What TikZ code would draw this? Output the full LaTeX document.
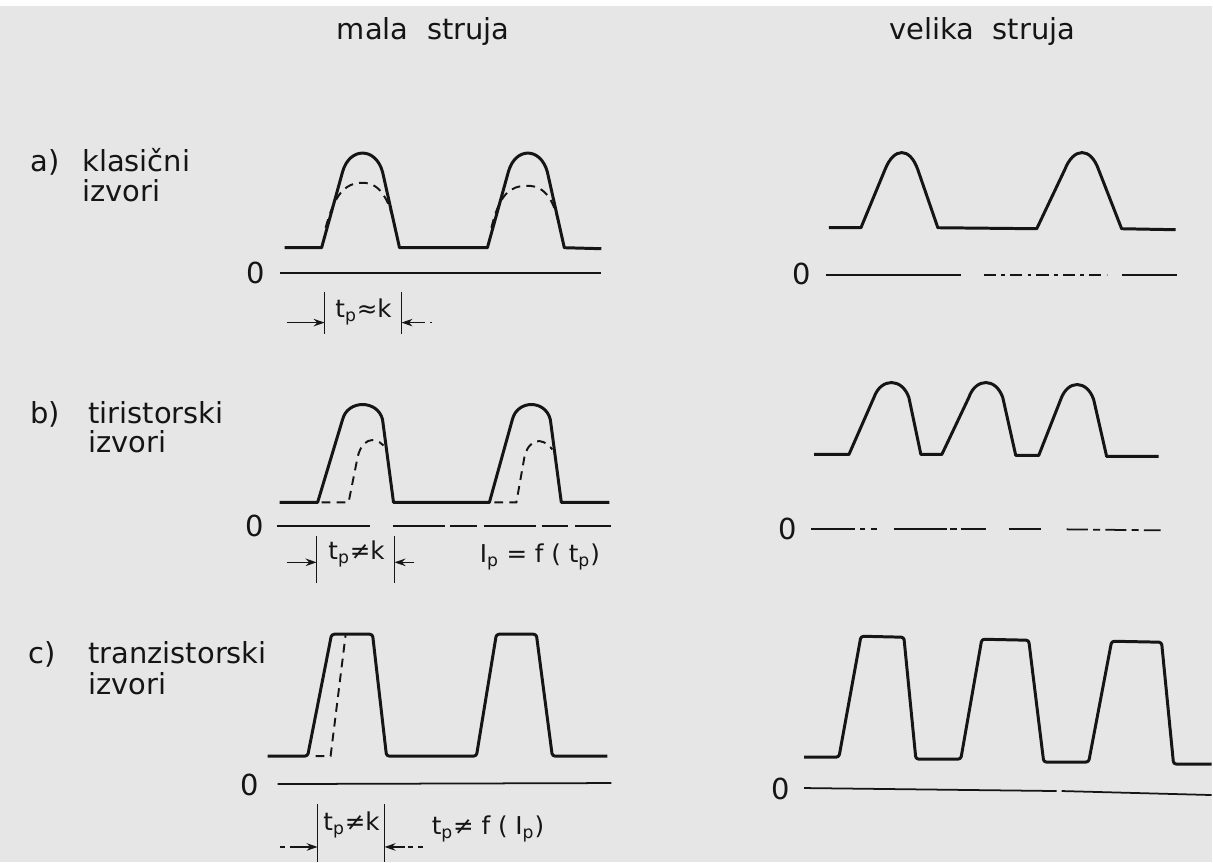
\documentclass[tikz,border=0pt]{standalone}
\usepackage{fontspec}
\setmainfont{DejaVu Sans}
\usetikzlibrary{arrows.meta}
\definecolor{paper}{HTML}{E6E6E6}
\definecolor{ink}{HTML}{151515}

\begin{document}
\begin{tikzpicture}[
  x=0.02cm, y=-0.02cm,
  every node/.style={font=\fontsize{16.5}{15}\selectfont, text=ink, inner sep=0pt},
  title/.style={anchor=base west},
  rowlabel/.style={anchor=base west},
  zero/.style={anchor=center},
  dimtext/.style={font=\fontsize{14}{15}\selectfont, anchor=base},
  wave/.style={draw=ink, line width=1.7pt, line join=round},
  guess/.style={draw=ink, line width=1.1pt, dash pattern=on 5pt off 3.5pt},
  axis/.style={draw=ink, line width=1pt},
  tick/.style={draw=ink, line width=0.9pt},
  dim/.style={draw=ink, line width=0.9pt, -{Stealth[length=2.2mm,width=1.5mm]}},
]
% paper
\fill[paper] (0,0) rectangle (1213,863);
\fill[white] (0,0) rectangle (1213,6);

% column titles
\node[title] (mala) at (337,40) {mala\ \ struja};
\node[title] (velika) at (890,40) {velika\ \ struja};

% row labels
\node[rowlabel] (ra) at (30,172) {a)};
\node[rowlabel] (klas) at (82,172) {klasični};
\node[rowlabel] (izva) at (82,202) {izvori};
\node[rowlabel] (rb) at (30,424) {b)};
\node[rowlabel] (tiri) at (88,424) {tiristorski};
\node[rowlabel] (izvb) at (88,453) {izvori};
\node[rowlabel] (rc) at (28,664) {c)};
\node[rowlabel] (tran) at (88,664) {tranzistorski};
\node[rowlabel] (izvc) at (88,695) {izvori};

% zero levels
\node[zero] (za) at (256,273) {0};
\node[zero] (zb) at (255,527) {0};
\node[zero] (zc) at (250,786) {0};
\node[zero] (zd) at (803,274) {0};
\node[zero] (ze) at (789,530) {0};
\node[zero] (zf) at (782,790) {0};

%% a) klasicni izvori
\draw[axis] (280,273) -- (602,273);
\draw[wave] (285,248) -- (322,248) -- (343,172) .. controls (350,147) and (376,147) .. (383,172)
  -- (400,248) -- (488,248) -- (509,172) .. controls (516,147) and (541,147) .. (548,172)
  -- (565,248) -- (602,249);
\draw[guess] (326,228) .. controls (335,195) and (345,183) .. (363,183) .. controls (381,183) and (390,200) .. (396,230);
\draw[guess] (492,228) .. controls (500,195) and (510,186) .. (528,186) .. controls (546,186) and (555,200) .. (561,230);

\coordinate (a1) at (325,292);
\coordinate (a2) at (402,292);
\draw[tick] (a1) -- ++(0,42);
\draw[tick] (a2) -- ++(0,42);
\draw[dim] (287,323) -- (a1 |- 0,323);
\draw[dim] (420,323) -- (a2 |- 0,323);
\draw[tick, dashed] (420,323) -- (433,323);
\node[dimtext] (tpa) at (364,318) {t\textsubscript{p}≈k};

\draw[axis] (827,275) -- (962,275);
\draw[axis, dash pattern=on 7pt off 3pt on 2pt off 3pt] (985,275) -- (1108,275);
\draw[axis] (1123,275) -- (1178,275);
\draw[wave] (830,228) -- (862,228) -- (886,170) .. controls (895,147) and (911,147) .. (919,170)
  -- (939,228) -- (1038,229) -- (1066,170) .. controls (1075,147) and (1092,147) .. (1100,170)
  -- (1123,229) -- (1177,230);

%% b) tiristorski izvori
\draw[axis] (277,527) -- (370,527);
\draw[axis, dash pattern=on 30pt off 3pt on 15pt off 4pt] (393,527) -- (612,527);
\draw[wave] (280,503) -- (318,503) -- (343,420) .. controls (348,400) and (378,400) .. (383,420)
  -- (394,503) -- (490,503) -- (513,420) .. controls (518,400) and (546,400) .. (551,420)
  -- (562,503) -- (610,503);
\draw[guess] (322,503) -- (349,503) -- (358,458) .. controls (362,440) and (374,436) .. (384,446);
\draw[guess] (495,503) -- (517,503) -- (525,458) .. controls (529,440) and (542,436) .. (553,450);

\coordinate (b1) at (317,537);
\coordinate (b2) at (395,537);
\draw[tick] (b1) -- ++(0,47);
\draw[tick] (b2) -- ++(0,47);
\draw[dim] (287,563) -- (b1 |- 0,563);
\draw[dim] (415,563) -- (b2 |- 0,563);
\node[dimtext] (tpb) at (357,560) {t\textsubscript{p}≠k};
\node[dimtext, anchor=base west] (ipb) at (480,563) {I\textsubscript{p} = f ( t\textsubscript{p})};

\draw[axis, dash pattern=on 25pt off 3pt on 3pt off 3pt] (812,530) -- (878,530);
\draw[axis, dash pattern=on 30pt off 2pt on 4pt off 2pt] (895,530) -- (987,530);
\draw[axis] (1010,530) -- (1042,530);
\draw[axis, dash pattern=on 12pt off 3pt on 4pt off 3pt] (1068,530) -- (1162,531);
\draw[wave] (815,455) -- (850,455) -- (875,398) .. controls (882,378) and (903,378) .. (910,398)
  -- (922,455) -- (943,455) -- (970,398) .. controls (977,378) and (997,378) .. (1004,398)
  -- (1017,456) -- (1040,456) -- (1062,400) .. controls (1069,380) and (1088,380) .. (1095,400)
  -- (1108,457) -- (1160,457);

%% c) tranzistorski izvori
\draw[axis] (278,785) -- (612,784);
\draw[wave, rounded corners=1.5pt] (268,757) -- (308,757) -- (332,635) -- (373,635) -- (387,757)
  -- (477,757) -- (497,635) -- (537,635) -- (553,757) -- (608,757);
\draw[guess] (316,757) -- (331,757) -- (346,636);

\coordinate (c1) at (318,805);
\coordinate (c2) at (385,805);
\draw[tick] (c1) -- ++(0,58);
\draw[tick] (c2) -- ++(0,58);
\draw[tick, dashed] (280,848) -- (292,848);
\draw[dim] (292,848) -- (c1 |- 0,848);
\draw[dim] (405,848) -- (c2 |- 0,848);
\draw[tick, dashed] (408,848) -- (427,848);
\node[dimtext] (tpc) at (352,832) {t\textsubscript{p}≠k};
\node[dimtext, anchor=base west] (ipc) at (432,836) {t\textsubscript{p}≠ f ( I\textsubscript{p})};

\draw[axis] (805,789) -- (1058,792);
\draw[axis] (1063,792) -- (1213,796);
\draw[wave, rounded corners=1.5pt] (805,758) -- (840,758) -- (862,637) -- (905,638) -- (917,760)
  -- (962,760) -- (983,640) -- (1030,641) -- (1045,763) -- (1090,763) -- (1113,642)
  -- (1163,643) -- (1175,765) -- (1213,765);
\end{tikzpicture}
\end{document}
